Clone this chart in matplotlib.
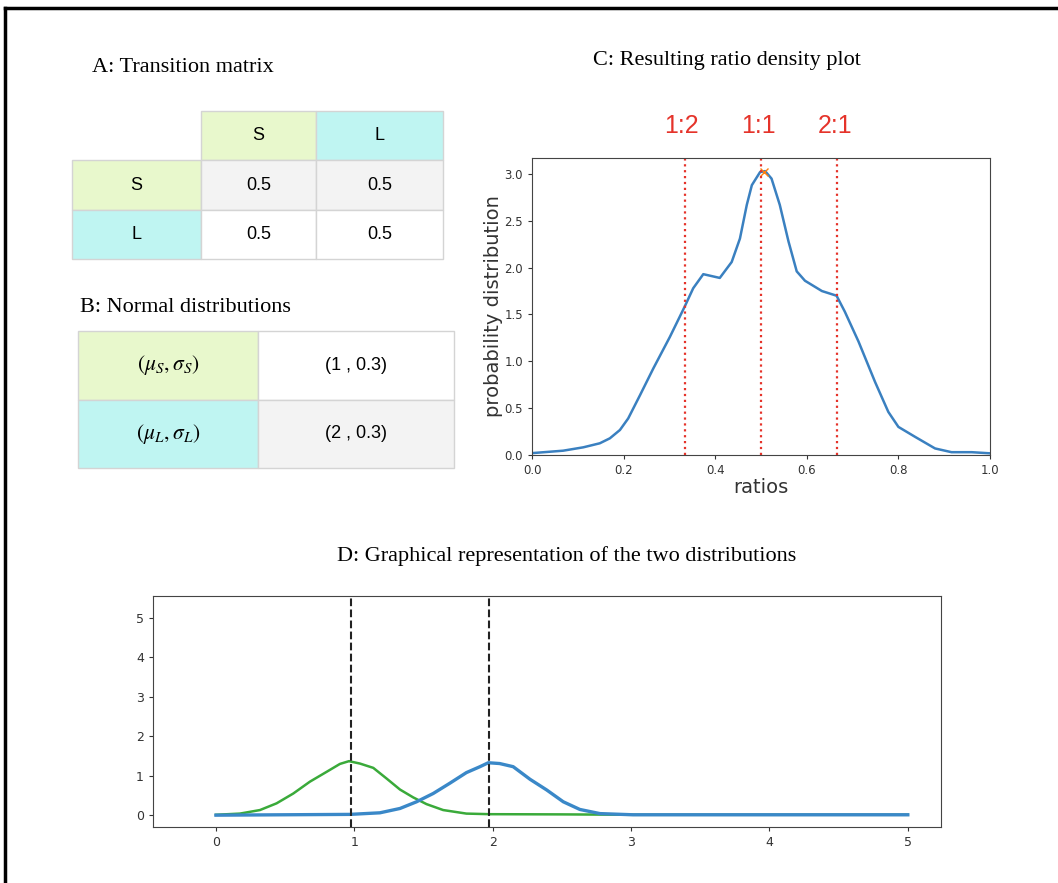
import matplotlib
matplotlib.use("Agg")
import matplotlib.pyplot as plt
from matplotlib.lines import Line2D

plt.rcParams["mathtext.fontset"] = "stix"

# ---- data ----
states = ["S", "L"]
trans = [["0.5", "0.5"], ["0.5", "0.5"]]
dist_labels = [r"$(\mu_S, \sigma_S)$", r"$(\mu_L, \sigma_L)$"]
dist_params = ["(1 , 0.3)", "(2 , 0.3)"]

ratio_x = [0.0, 0.068, 0.112, 0.148, 0.170, 0.192, 0.210, 0.236, 0.265, 0.301,
           0.333, 0.352, 0.374, 0.392, 0.410, 0.436, 0.454, 0.469, 0.480, 0.498,
           0.509, 0.523, 0.541, 0.560, 0.578, 0.596, 0.633, 0.665, 0.683, 0.713,
           0.749, 0.778, 0.800, 0.836, 0.880, 0.916, 0.960, 1.0]
ratio_y = [0.02, 0.046, 0.082, 0.125, 0.178, 0.267, 0.39, 0.64, 0.925, 1.26,
           1.58, 1.78, 1.93, 1.91, 1.89, 2.06, 2.31, 2.67, 2.88, 3.02,
           3.03, 2.95, 2.67, 2.28, 1.96, 1.86, 1.75, 1.70, 1.53, 1.21,
           0.78, 0.46, 0.30, 0.195, 0.07, 0.03, 0.03, 0.018]
ratio_marks = [1 / 3, 1 / 2, 2 / 3]
ratio_names = ["1:2", "1:1", "2:1"]
peak = (0.507, 3.02)

green_x = [0, 0.173, 0.318, 0.438, 0.559, 0.679, 0.80, 0.896, 0.961, 1.04, 1.137,
           1.233, 1.33, 1.426, 1.522, 1.642, 1.81, 1.98, 2.5, 3.0, 4.0, 5.0]
green_y = [0.01, 0.04, 0.13, 0.30, 0.55, 0.85, 1.10, 1.30, 1.37, 1.31, 1.20,
           0.93, 0.65, 0.45, 0.28, 0.13, 0.04, 0.025, 0.02, 0.01, 0.01, 0.01]
blue_x = [0, 0.968, 1.185, 1.33, 1.45, 1.57, 1.69, 1.81, 1.908, 1.968, 2.05,
          2.148, 2.27, 2.39, 2.51, 2.63, 2.775, 3.015, 4.0, 5.0]
blue_y = [0.0, 0.02, 0.06, 0.17, 0.34, 0.55, 0.81, 1.08, 1.23, 1.33, 1.31,
          1.23, 0.91, 0.64, 0.34, 0.145, 0.04, 0.01, 0.01, 0.01]
means = [0.973, 1.973]

GREEN = "#e8f8cc"
CYAN = "#bff5f2"
GREY = "#f3f3f3"
EDGE = "#d4d4d4"
RED = "#e5332a"

W, H = 1058, 883
fig = plt.figure(figsize=(W / 100, H / 100), dpi=100)


def box(x0, y0, x1, y1):
    return [x0 / W, 1 - y1 / H, (x1 - x0) / W, (y1 - y0) / H]


serif = "Liberation Serif"
sans = "Liberation Sans"

# frame
fig.add_artist(Line2D([5 / W, 5 / W], [0, 1 - 8 / H], color="black", lw=2.5))
fig.add_artist(Line2D([5 / W, 1], [1 - 8 / H, 1 - 8 / H], color="black", lw=2.5))

# ---- A: transition matrix ----
fig.text(92 / W, 1 - 68 / H, "A: Transition matrix", fontsize=16, family=serif, va="center")
axA = fig.add_axes(box(72, 111, 443, 259))
axA.axis("off")
cellsA = [[""] + states] + [[states[i]] + trans[i] for i in range(2)]
colorsA = [["white", GREEN, CYAN], [GREEN, GREY, GREY], [CYAN, "white", "white"]]
tA = axA.table(cellText=cellsA, cellColours=colorsA, bbox=[0, 0, 1, 1], cellLoc="center")
tA.auto_set_font_size(False)
widthsA = [0.348, 0.310, 0.342]
for (r, c), cell in tA.get_celld().items():
    cell.set_edgecolor(EDGE)
    cell.set_width(widthsA[c])
    cell.get_text().set_fontsize(13)
    cell.get_text().set_family(sans)
    if r == 0 and c == 0:
        cell.visible_edges = ""

# ---- B: normal distributions ----
fig.text(80 / W, 1 - 308 / H, "B: Normal distributions", fontsize=16, family=serif, va="center")
axB = fig.add_axes(box(78, 331, 454, 468))
axB.axis("off")
cellsB = [[dist_labels[i], dist_params[i]] for i in range(2)]
colorsB = [[GREEN, "white"], [CYAN, GREY]]
tB = axB.table(cellText=cellsB, cellColours=colorsB, bbox=[0, 0, 1, 1], cellLoc="center")
tB.auto_set_font_size(False)
widthsB = [0.479, 0.521]
for (r, c), cell in tB.get_celld().items():
    cell.set_edgecolor(EDGE)
    cell.set_width(widthsB[c])
    txt = cell.get_text()
    txt.set_fontsize(13)
    txt.set_family(serif if c == 0 else sans)
    if c == 0:
        txt.set_fontsize(15.5)

# ---- C: ratio density ----
fig.text(727 / W, 1 - 60 / H, "C: Resulting ratio density plot", fontsize=16, family=serif,
         ha="center", va="center")
axC = fig.add_axes(box(532, 158, 990, 455))
axC.plot(ratio_x, ratio_y, color="#3a80c0", lw=1.8)
axC.plot([peak[0]], [peak[1]], "x", color="tab:orange", ms=6)
for xm, name in zip(ratio_marks, ratio_names):
    axC.axvline(xm, color=RED, ls=":", lw=1.6)
    axC.text(xm - 0.006, 1.108, name, transform=axC.get_xaxis_transform(), color=RED,
             fontsize=18, family=sans, ha="center", va="center")
axC.set_xlim(0, 1)
axC.set_ylim(0, 3.17)
axC.set_xticks([0, 0.2, 0.4, 0.6, 0.8, 1.0])
axC.set_yticks([0, 0.5, 1.0, 1.5, 2.0, 2.5, 3.0])
axC.tick_params(labelsize=8.5, colors="#333333", length=3)
axC.set_xlabel("ratios", fontsize=14, color="#333333", labelpad=1)
axC.set_ylabel("probability distribution", fontsize=14, color="#333333", labelpad=1)
for s in axC.spines.values():
    s.set_color("#444444")

# ---- D: two distributions ----
fig.text(567 / W, 1 - 556 / H, "D: Graphical representation of the two distributions",
         fontsize=16, family=serif, ha="center", va="center")
axD = fig.add_axes(box(153, 596, 941, 827))
axD.plot(green_x, green_y, color="#3aaa3a", lw=1.8)
axD.plot(blue_x, blue_y, color="#3a88c8", lw=2.4)
for m in means:
    axD.axvline(m, color="#222222", ls="--", lw=1.5)
axD.set_xlim(-0.455, 5.24)
axD.set_ylim(-0.3, 5.56)
axD.set_xticks(range(6))
axD.set_yticks(range(6))
axD.tick_params(labelsize=9, colors="#333333", length=3)
for s in axD.spines.values():
    s.set_color("#444444")

fig.savefig("out.png", dpi=100)
